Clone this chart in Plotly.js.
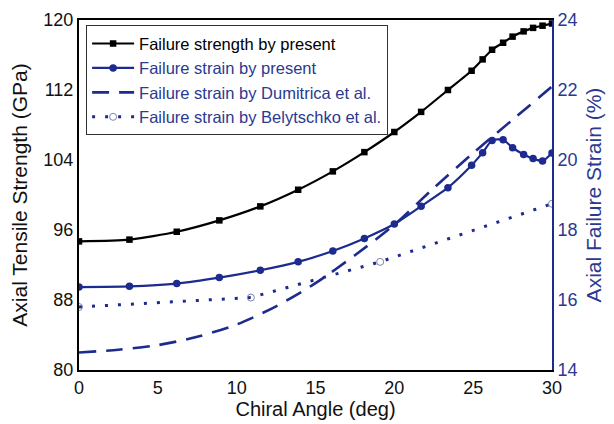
<!DOCTYPE html>
<html>
<head>
<meta charset="utf-8">
<script src="https://cdn.plot.ly/plotly-3.0.1.min.js"></script>
<style>html,body{margin:0;padding:0;background:#fff;}#chart{width:614px;height:424px;}</style>
</head>
<body>
<div id="chart"></div>
<script>
// Chiral angle (deg) for present results
const angles = [0, 3.2, 6.2, 8.9, 11.5, 13.9, 16.1, 18.1, 20.0, 21.7, 23.4, 24.9, 25.6, 26.2, 26.9, 27.5, 28.2, 28.8, 29.4, 30];
// Failure strength by present (GPa)
const strengthPresent = [94.7, 94.9, 95.8, 97.1, 98.7, 100.6, 102.7, 104.9, 107.2, 109.5, 112.0, 114.2, 115.5, 116.6, 117.4, 118.1, 118.7, 119.1, 119.35, 119.6];
// Failure strain by present (%)
const strainPresent = [16.37, 16.39, 16.47, 16.64, 16.85, 17.09, 17.4, 17.76, 18.17, 18.68, 19.21, 19.85, 20.21, 20.56, 20.58, 20.35, 20.16, 20.04, 19.97, 20.2];
// Failure strain by Dumitrica et al. (%)
const anglesDumitrica = [0, 2.5, 5, 7.5, 10, 12.5, 15, 17.5, 20, 22.5, 25, 27.5, 30];
const strainDumitrica = [14.5, 14.58, 14.71, 14.95, 15.3, 15.82, 16.48, 17.28, 18.15, 19.2, 20.2, 21.15, 22.1];
// Failure strain by Belytschko et al. (%)
const anglesBelytschko = [0, 10.9, 19.1, 30];
const strainBelytschko = [15.8, 16.07, 17.09, 18.75];

const names = [
  'Failure strength by present',
  'Failure strain by present',
  'Failure strain by Dumitrica et al.',
  'Failure strain by Belytschko et al.'
];

const BLUE = '#1d2a8e';
const BLUE_TXT = '#2b3990';
const FONT = 'Liberation Sans, Arial, Helvetica, sans-serif';

const traces = [
  {
    x: angles, y: strengthPresent, name: '<span style="color:#000">' + names[0] + '</span>',
    mode: 'lines+markers', line: {color: '#000', width: 2.2, shape: 'spline', smoothing: 0.6},
    marker: {symbol: 'square', size: 6.5, color: '#000'}, cliponaxis: true
  },
  {
    x: angles, y: strainPresent, name: '<span style="color:' + BLUE_TXT + '">' + names[1] + '</span>', yaxis: 'y2',
    mode: 'lines+markers', line: {color: BLUE, width: 2.2, shape: 'spline', smoothing: 0.6},
    marker: {symbol: 'circle', size: 7.5, color: BLUE}, cliponaxis: true
  },
  {
    x: anglesDumitrica, y: strainDumitrica, name: '<span style="color:' + BLUE_TXT + '">' + names[2] + '</span>', yaxis: 'y2',
    mode: 'lines', line: {color: BLUE, width: 2.6, dash: '17px,10px', shape: 'spline', smoothing: 0.8}
  },
  {
    x: anglesBelytschko, y: strainBelytschko, name: '<span style="color:' + BLUE_TXT + '">' + names[3] + '</span>', yaxis: 'y2',
    mode: 'lines+markers', line: {color: BLUE, width: 3, dash: '3px,10px'},
    marker: {symbol: 'circle-open', size: 7, color: '#7d86a8', line: {width: 1}}, cliponaxis: true
  }
];

// helper axes: only draw inward-pointing tick marks (no labels, no lines)
function tickAxis(range, dtick, minorDtick, color, extra) {
  return Object.assign({
    range: range, tickmode: 'linear', tick0: range[0], dtick: dtick,
    showgrid: false, zeroline: false, showline: false, showticklabels: false,
    ticks: 'outside', ticklen: 8, tickwidth: 2, tickcolor: color, layer: 'above traces',
    minor: {dtick: minorDtick, ticks: 'outside', ticklen: 5, tickwidth: 1.5, tickcolor: color, showgrid: false},
    anchor: 'free'
  }, extra);
}

const layout = {
  width: 614, height: 424,
  margin: {l: 79, r: 62, t: 20, b: 54},
  paper_bgcolor: '#fff', plot_bgcolor: '#fff',
  font: {family: FONT, size: 18, color: '#111'},
  showlegend: true,
  legend: {
    x: 0.015, y: 0.985, xanchor: 'left', yanchor: 'top',
    bgcolor: '#fff', bordercolor: '#333', borderwidth: 1,
    font: {family: FONT, size: 16.5, color: '#000'},
    itemwidth: 42, tracegroupgap: 0
  },
  xaxis: {
    range: [0, 30], tickmode: 'linear', tick0: 0, dtick: 5, showgrid: false, zeroline: false,
    ticks: '', showline: true, linecolor: '#000', linewidth: 2, mirror: true,
    tickfont: {family: FONT, size: 18, color: '#111'},
    title: {text: 'Chiral Angle (deg)', font: {family: FONT, size: 20, color: '#111'}, standoff: 4}
  },
  yaxis: {
    range: [80, 120], tickmode: 'linear', tick0: 80, dtick: 8, showgrid: false, zeroline: false,
    ticks: '', showline: true, linecolor: '#000', linewidth: 2, mirror: false,
    tickfont: {family: FONT, size: 18, color: '#111'},
    title: {text: 'Axial Tensile Strength (GPa)', font: {family: FONT, size: 21, color: '#111'}, standoff: 10}
  },
  yaxis2: {
    overlaying: 'y', side: 'right', anchor: 'x',
    range: [14, 24], tickmode: 'linear', tick0: 14, dtick: 2, showgrid: false, zeroline: false,
    ticks: '', showline: true, linecolor: BLUE, linewidth: 2,
    tickfont: {family: FONT, size: 18, color: BLUE_TXT},
    title: {text: 'Axial Failure Strain (%)', font: {family: FONT, size: 21, color: BLUE_TXT}, standoff: 10}
  },
  // inward ticks, bottom and top
  xaxis3: tickAxis([0, 30], 5, 2.5, '#000', {overlaying: 'x', side: 'top', position: 0}),
  xaxis4: tickAxis([0, 30], 5, 2.5, '#000', {overlaying: 'x', side: 'bottom', position: 1}),
  // inward ticks, left and right
  yaxis3: tickAxis([80, 120], 8, 4, '#000', {overlaying: 'y', side: 'right', position: 0}),
  yaxis4: tickAxis([14, 24], 2, 1, BLUE, {overlaying: 'y', side: 'left', position: 1})
};

Plotly.newPlot('chart', traces, layout, {staticPlot: true, displayModeBar: false});
</script>
</body>
</html>
